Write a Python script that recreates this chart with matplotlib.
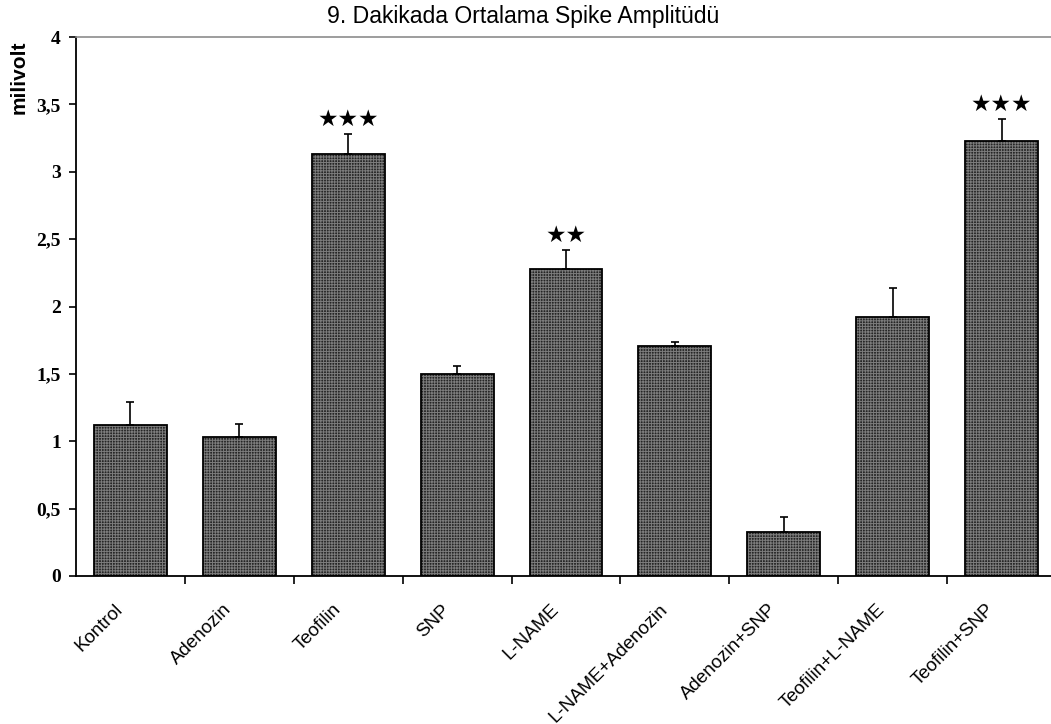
import matplotlib
matplotlib.use("Agg")
import matplotlib.pyplot as plt
import numpy as np
from matplotlib.ticker import FixedLocator, FuncFormatter
from matplotlib.transforms import ScaledTranslation

categories = ["Kontrol", "Adenozin", "Teofilin", "SNP", "L-NAME",
              "L-NAME+Adenozin", "Adenozin+SNP", "Teofilin+L-NAME", "Teofilin+SNP"]
means = [1.12, 1.03, 3.13, 1.50, 2.28, 1.71, 0.33, 1.92, 3.23]
sem = [0.17, 0.10, 0.15, 0.06, 0.14, 0.03, 0.11, 0.22, 0.16]
significance = ["", "", "★★★", "", "★★", "", "", "", "★★★"]
y_ticks = [0, 0.5, 1, 1.5, 2, 2.5, 3, 3.5, 4]

title = "9. Dakikada Ortalama Spike Amplitüdü"
y_label = "milivolt"

plt.rcParams["hatch.linewidth"] = 0.7

fig = plt.figure(figsize=(10.51, 7.24), dpi=100)
ax = fig.add_axes([76 / 1051, 148 / 724, 980 / 1051, 539 / 724])

x = np.arange(len(categories))
bar_w = 0.67

# textured fill, then a crisp black outline on top
ax.bar(x, means, width=bar_w, color="#262626", edgecolor="#7c7c7c",
       linewidth=0, hatch="++++++", zorder=2)
ax.bar(x, means, width=bar_w, fill=False, edgecolor="black",
       linewidth=1.3, zorder=3)

# upper-only error bars
ax.errorbar(x, means, yerr=[np.zeros(len(sem)), sem], fmt="none",
            ecolor="black", elinewidth=1.2, capsize=3, capthick=1.2, zorder=4)

# significance stars above the error bars
for xi, m, s, lab in zip(x, means, sem, significance):
    if lab:
        ax.text(xi, m + s + 0.11, lab, ha="center", va="center",
                fontsize=16.5, color="black", family="DejaVu Sans",
                fontweight="bold", zorder=5)

ax.set_xlim(-0.5, len(categories) - 0.5)
ax.set_ylim(0, 4)

ax.set_yticks(y_ticks)
ax.yaxis.set_major_formatter(FuncFormatter(
    lambda v, p: (f"{v:g}").replace(".", ",")))
for lbl in ax.get_yticklabels():
    lbl.set_family("Liberation Serif")
    lbl.set_fontweight("bold")
    lbl.set_fontsize(14)
ax.tick_params(axis="y", direction="out", length=5, width=1.2, pad=6)

ax.set_xticks(x)
ax.set_xticklabels(categories, rotation=45, ha="right", rotation_mode="anchor",
                   family="Liberation Sans", fontsize=13.5)
ax.tick_params(axis="x", which="major", length=0, pad=18)
shift = ScaledTranslation(-16 / 100, 0, fig.dpi_scale_trans)
for lbl in ax.get_xticklabels():
    lbl.set_transform(lbl.get_transform() + shift)
ax.xaxis.set_minor_locator(FixedLocator(np.arange(0.5, len(categories) - 0.5, 1.0)))
ax.tick_params(axis="x", which="minor", direction="out", length=6, width=1.2)

for side in ("left", "bottom"):
    ax.spines[side].set_linewidth(1.3)
    ax.spines[side].set_color("black")
ax.spines["top"].set_color("#8c8c8c")
ax.spines["top"].set_linewidth(1.2)
ax.spines["right"].set_visible(False)

fig.text(0.5 - 2 / 1051, 1 - 16 / 724, title, ha="center", va="center",
         family="Liberation Sans", fontsize=16.6)
fig.text(19 / 1051, 1 - 40 / 724, y_label, rotation=90, ha="center", va="top",
         family="Liberation Sans", fontweight="bold", fontsize=15)

fig.savefig("out.png", dpi=100)
